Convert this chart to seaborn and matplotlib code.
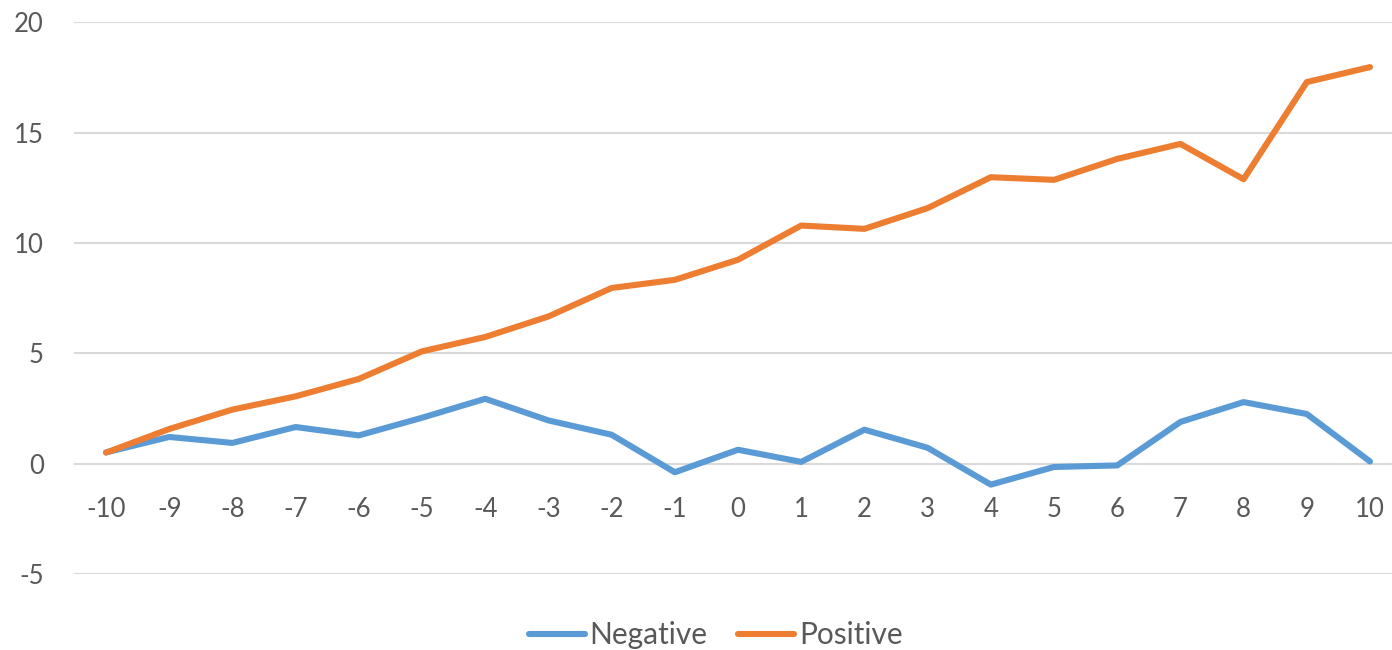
import matplotlib
matplotlib.use("Agg")
import matplotlib.pyplot as plt
import seaborn as sns
import pandas as pd

# Category labels along the horizontal axis
categories = list(range(-10, 11))

# Series values
negative = [0.51, 1.21, 0.94, 1.66, 1.28, 2.08, 2.94, 1.96, 1.31, -0.39, 0.63,
            0.08, 1.54, 0.72, -0.95, -0.15, -0.08, 1.89, 2.79, 2.25, 0.10]
positive = [0.50, 1.57, 2.45, 3.05, 3.84, 5.09, 5.74, 6.67, 7.96, 8.33, 9.24,
            10.79, 10.64, 11.58, 12.98, 12.86, 13.81, 14.49, 12.89, 17.29, 17.97]

series_names = ["Negative", "Positive"]
y_ticks = [-5, 0, 5, 10, 15, 20]

df = pd.DataFrame({
    "x": categories * 2,
    "value": negative + positive,
    "series": [series_names[0]] * len(categories) + [series_names[1]] * len(categories),
})

sns.set_theme(style="white")
plt.rcParams["font.family"] = ["Lato", "DejaVu Sans"]

text_color = "#595959"
grid_color = "#D9D9D9"
palette = {"Negative": "#5B9BD5", "Positive": "#ED7D31"}

fig = plt.figure(figsize=(13.92, 6.5), dpi=100)
ax = fig.add_axes([74.4 / 1392, 76 / 650, (1401.6 - 74.4) / 1392, (574 - 22.3) / 650])

sns.lineplot(data=df, x="x", y="value", hue="series", palette=palette,
             linewidth=4.4, ax=ax, legend=True, sort=False)
for line in ax.lines:
    line.set_solid_capstyle("round")
    line.set_solid_joinstyle("round")

ax.set_xlim(-10.5, 10.5)
ax.set_ylim(-5, 20)
ax.set_yticks(y_ticks)
ax.set_yticklabels([str(v) for v in y_ticks])
ax.set_xticks(categories)
ax.set_xticklabels([str(c) for c in categories])

# horizontal gridlines
for v in y_ticks:
    ax.axhline(v, color=grid_color, linewidth=1.5, zorder=0)

for s in ax.spines.values():
    s.set_visible(False)
# category labels sit just below the zero line
ax.spines["bottom"].set_position(("data", 0))

ax.tick_params(axis="y", length=0, pad=22, labelsize=18.5, labelcolor=text_color)
ax.tick_params(axis="x", length=0, pad=24, labelsize=18.5, labelcolor=text_color)
ax.set_xlabel("")
ax.set_ylabel("")

handles, labels = ax.get_legend_handles_labels()
ax.get_legend().remove()
leg = fig.legend(handles, labels, loc="center", bbox_to_anchor=(0.514, 0.023),
                 ncol=2, frameon=False, fontsize=21.5, handlelength=1.9,
                 handletextpad=0.15, columnspacing=1.0, labelcolor=text_color)
for h in leg.legend_handles:
    h.set_linewidth(4.4)
    h.set_solid_capstyle("round")

fig.savefig("out.png", dpi=100, facecolor="white")
